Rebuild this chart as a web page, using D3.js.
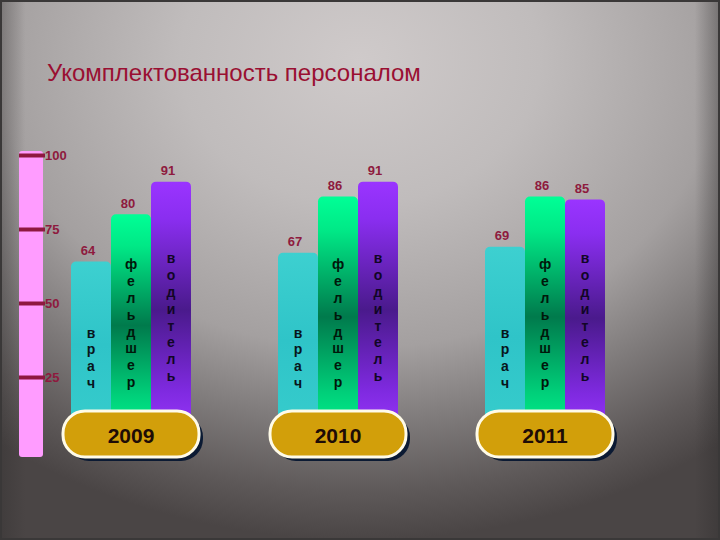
<!DOCTYPE html>
<html><head><meta charset="utf-8">
<script src="https://cdn.jsdelivr.net/npm/d3@7"></script>
<style>html,body{margin:0;padding:0;background:#777;}svg{display:block;}</style>
</head><body>
<svg id="chart" width="720" height="540"></svg>
<script>
const title = "Укомплектованность персоналом";
const years = ["2009", "2010", "2011"];
const categories = ["врач", "фельдшер", "водитель"];
const vrach = [64, 67, 69];
const feldsher = [80, 86, 86];
const voditel = [91, 91, 85];
const tickValues = [100, 75, 50, 25];

const seriesValues = [vrach, feldsher, voditel];

const svg = d3.select("#chart");
const W = 720, H = 540;
const defs = svg.append("defs");

// background
const bg = defs.append("radialGradient").attr("id", "bg")
  .attr("gradientUnits", "userSpaceOnUse").attr("cx", 360).attr("cy", 60).attr("r", 600)
  .attr("gradientTransform", "translate(360,60) scale(1,0.8) translate(-360,-60)");
[[0, "#cfcaca"], [0.3, "#c0bcbc"], [0.6, "#a4a0a0"], [0.75, "#807c7c"], [0.9, "#5e5959"], [1, "#4a4545"]]
  .forEach(([o, c]) => bg.append("stop").attr("offset", o).attr("stop-color", c));
svg.append("rect").attr("width", W).attr("height", H).attr("fill", "url(#bg)");
const side = defs.append("linearGradient").attr("id", "side").attr("x1", 0).attr("x2", 1).attr("y1", 0).attr("y2", 0);
[[0, "#2e2c2c", 0.35], [0.035, "#2e2c2c", 0], [0.965, "#2e2c2c", 0], [1, "#2e2c2c", 0.4]]
  .forEach(([o, c, a]) => side.append("stop").attr("offset", o).attr("stop-color", c).attr("stop-opacity", a));
svg.append("rect").attr("width", W).attr("height", H).attr("fill", "url(#side)");
svg.append("rect").attr("x", 1).attr("y", 1).attr("width", W - 2).attr("height", H - 2)
  .attr("fill", "none").attr("stroke", "#3a3838").attr("stroke-width", 2);

// title
svg.append("text").attr("x", 47).attr("y", 81).text(title)
  .attr("font-family", "Liberation Sans, Arial, sans-serif").attr("font-size", 24)
  .attr("fill", "#9a0f32");

// scales
const y = d3.scaleLinear().domain([0, 100]).range([451, 155]);
const x0 = d3.scaleBand().domain(years).range([27.5, 648.5]);
const x1 = d3.scaleBand().domain(categories).range([-60, 60]);

// gradients for bars
function vgrad(id, stops) {
  const g = defs.append("linearGradient").attr("id", id).attr("x1", 0).attr("x2", 0).attr("y1", 0).attr("y2", 1);
  stops.forEach(([o, c]) => g.append("stop").attr("offset", o).attr("stop-color", c));
}
vgrad("g0", [[0, "#3dd0d0"], [0.5, "#2fc4c8"], [1, "#36cccc"]]);
vgrad("g1", [[0, "#00ff96"], [0.15, "#00e886"], [0.52, "#007a4c"], [0.85, "#00d07a"], [1, "#00f08a"]]);
vgrad("g2", [[0, "#9a34ff"], [0.15, "#8a2ef0"], [0.52, "#4a1a8c"], [0.85, "#7f2ae0"], [1, "#9535f8"]]);

const style = {
  "врач": { fill: "url(#g0)", text: "#08161c", bottom: 383 },
  "фельдшер": { fill: "url(#g1)", text: "#00180b", bottom: 382 },
  "водитель": { fill: "url(#g2)", text: "#120626", bottom: 376 }
};

// pink scale bar + axis
svg.append("rect").attr("x", 19).attr("y", 151).attr("width", 24).attr("height", 306)
  .attr("rx", 3).attr("fill", "#ff9cff");
const axis = d3.axisRight(y).tickValues(tickValues).tickSize(26).tickPadding(0);
const ag = svg.append("g").attr("transform", "translate(19,0)").call(axis);
ag.select(".domain").remove();
ag.selectAll(".tick line").attr("stroke", "#8e1840").attr("stroke-width", 4);
ag.selectAll(".tick text").attr("fill", "#8e1a3e").attr("font-family", "Liberation Sans, Arial, sans-serif")
  .attr("font-size", 13).attr("font-weight", "bold");

// bars
const data = [];
years.forEach((yr, i) => categories.forEach((c, j) => data.push({ year: yr, cat: c, value: seriesValues[j][i] })));
const bottomY = 428;
const barW = x1.bandwidth();
const gBars = svg.append("g");
const barG = gBars.selectAll("g.bar").data(data).join("g").attr("class", "bar")
  .attr("transform", d => `translate(${x0(d.year) + x0.bandwidth() / 2 + x1(d.cat)},0)`);
barG.append("rect").attr("x", 0).attr("width", barW)
  .attr("y", d => y(d.value)).attr("height", d => bottomY - y(d.value))
  .attr("rx", 5).attr("fill", d => style[d.cat].fill);
barG.append("text").attr("x", barW / 2 - 3).attr("y", d => y(d.value) - 11)
  .attr("text-anchor", "middle").attr("dominant-baseline", "central")
  .attr("font-family", "Liberation Sans, Arial, sans-serif").attr("font-size", 13).attr("font-weight", "bold")
  .attr("fill", "#8e1a3e").text(d => d.value);
const step = 16.8;
barG.each(function (d) {
  const letters = Array.from(d.cat);
  const st = style[d.cat];
  const start = st.bottom - (letters.length - 1) * step;
  d3.select(this).selectAll("text.l").data(letters).join("text").attr("class", "l")
    .attr("x", barW / 2).attr("y", (l, k) => start + k * step)
    .attr("text-anchor", "middle").attr("dominant-baseline", "central")
    .attr("font-family", "Liberation Sans, Arial, sans-serif").attr("font-size", 14).attr("font-weight", "bold")
    .attr("fill", st.text).text(l => l);
});

// year pills
const pillW = 136, pillH = 46, pillTop = 411;
const pg = svg.append("g").selectAll("g").data(years).join("g")
  .attr("transform", d => `translate(${x0(d) + x0.bandwidth() / 2},${pillTop})`);
pg.append("rect").attr("x", -pillW / 2 + 4).attr("y", 4).attr("width", pillW).attr("height", pillH)
  .attr("rx", 22).attr("fill", "#0b1a33");
pg.append("rect").attr("x", -pillW / 2).attr("y", 0).attr("width", pillW).attr("height", pillH)
  .attr("rx", 22).attr("fill", "#d29f0a").attr("stroke", "#fffbe8").attr("stroke-width", 3);
pg.append("text").attr("x", 0).attr("y", pillH / 2 + 1).attr("text-anchor", "middle")
  .attr("dominant-baseline", "central").attr("font-family", "Liberation Sans, Arial, sans-serif")
  .attr("font-size", 21).attr("font-weight", "bold").attr("fill", "#1e0c06").text(d => d);
</script>
</body></html>
